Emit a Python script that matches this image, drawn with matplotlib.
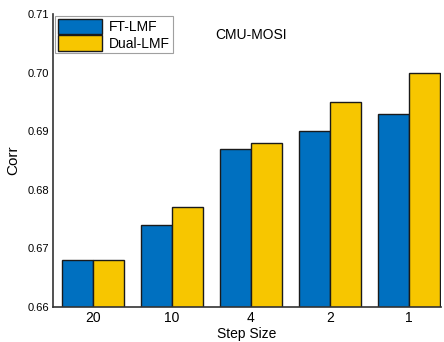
import matplotlib
matplotlib.use("Agg")
import matplotlib.pyplot as plt
import numpy as np

# =================
# DANE
# =================
kroki = ["20", "10", "4", "2", "1"]
ft_lmf = [0.668, 0.674, 0.687, 0.690, 0.693]
dual_lmf = [0.668, 0.677, 0.688, 0.695, 0.700]

plt.rcParams["font.family"] = ["Liberation Sans", "DejaVu Sans"]

fig = plt.figure(figsize=(4.44, 3.42), dpi=100)
ax = fig.add_axes([53 / 444, 1 - 307 / 342, 388 / 444, 293 / 342])

x = np.arange(1, len(kroki) + 1)
w = 0.39
ax.bar(x - w / 2, ft_lmf, w, color="#0070C0", edgecolor="#1a1a1a", linewidth=1, label="FT-LMF")
ax.bar(x + w / 2, dual_lmf, w, color="#F7C600", edgecolor="#1a1a1a", linewidth=1, label="Dual-LMF")

ax.set_xlim(0.494, 5.405)
ax.set_ylim(0.66, 0.71)
ax.set_xticks(x)
ax.set_xticklabels(kroki, fontsize=10)
ax.set_yticks([0.66, 0.67, 0.68, 0.69, 0.70, 0.71])
ax.set_yticklabels(["0.66", "0.67", "0.68", "0.69", "0.70", "0.71"], fontsize=8)
ax.tick_params(length=0, pad=3)

for s in ["top", "right"]:
    ax.spines[s].set_visible(False)
for s in ["left", "bottom"]:
    ax.spines[s].set_color("#333333")
    ax.spines[s].set_linewidth(1.2)

ax.set_xlabel("Step Size", fontsize=10, labelpad=1)
ax.set_ylabel("Corr", fontsize=11, labelpad=5)
ax.text(0.51, 0.93, "CMU-MOSI", transform=ax.transAxes, ha="center", va="center", fontsize=10)

leg = ax.legend(loc="upper left", fontsize=10, frameon=True, fancybox=False,
                borderpad=0.2, handlelength=3.2, handleheight=1.3, handletextpad=0.5,
                labelspacing=0.1, borderaxespad=0.15)
leg.get_frame().set_edgecolor("#888888")
leg.get_frame().set_linewidth(0.8)

fig.savefig("out.png", dpi=100)
